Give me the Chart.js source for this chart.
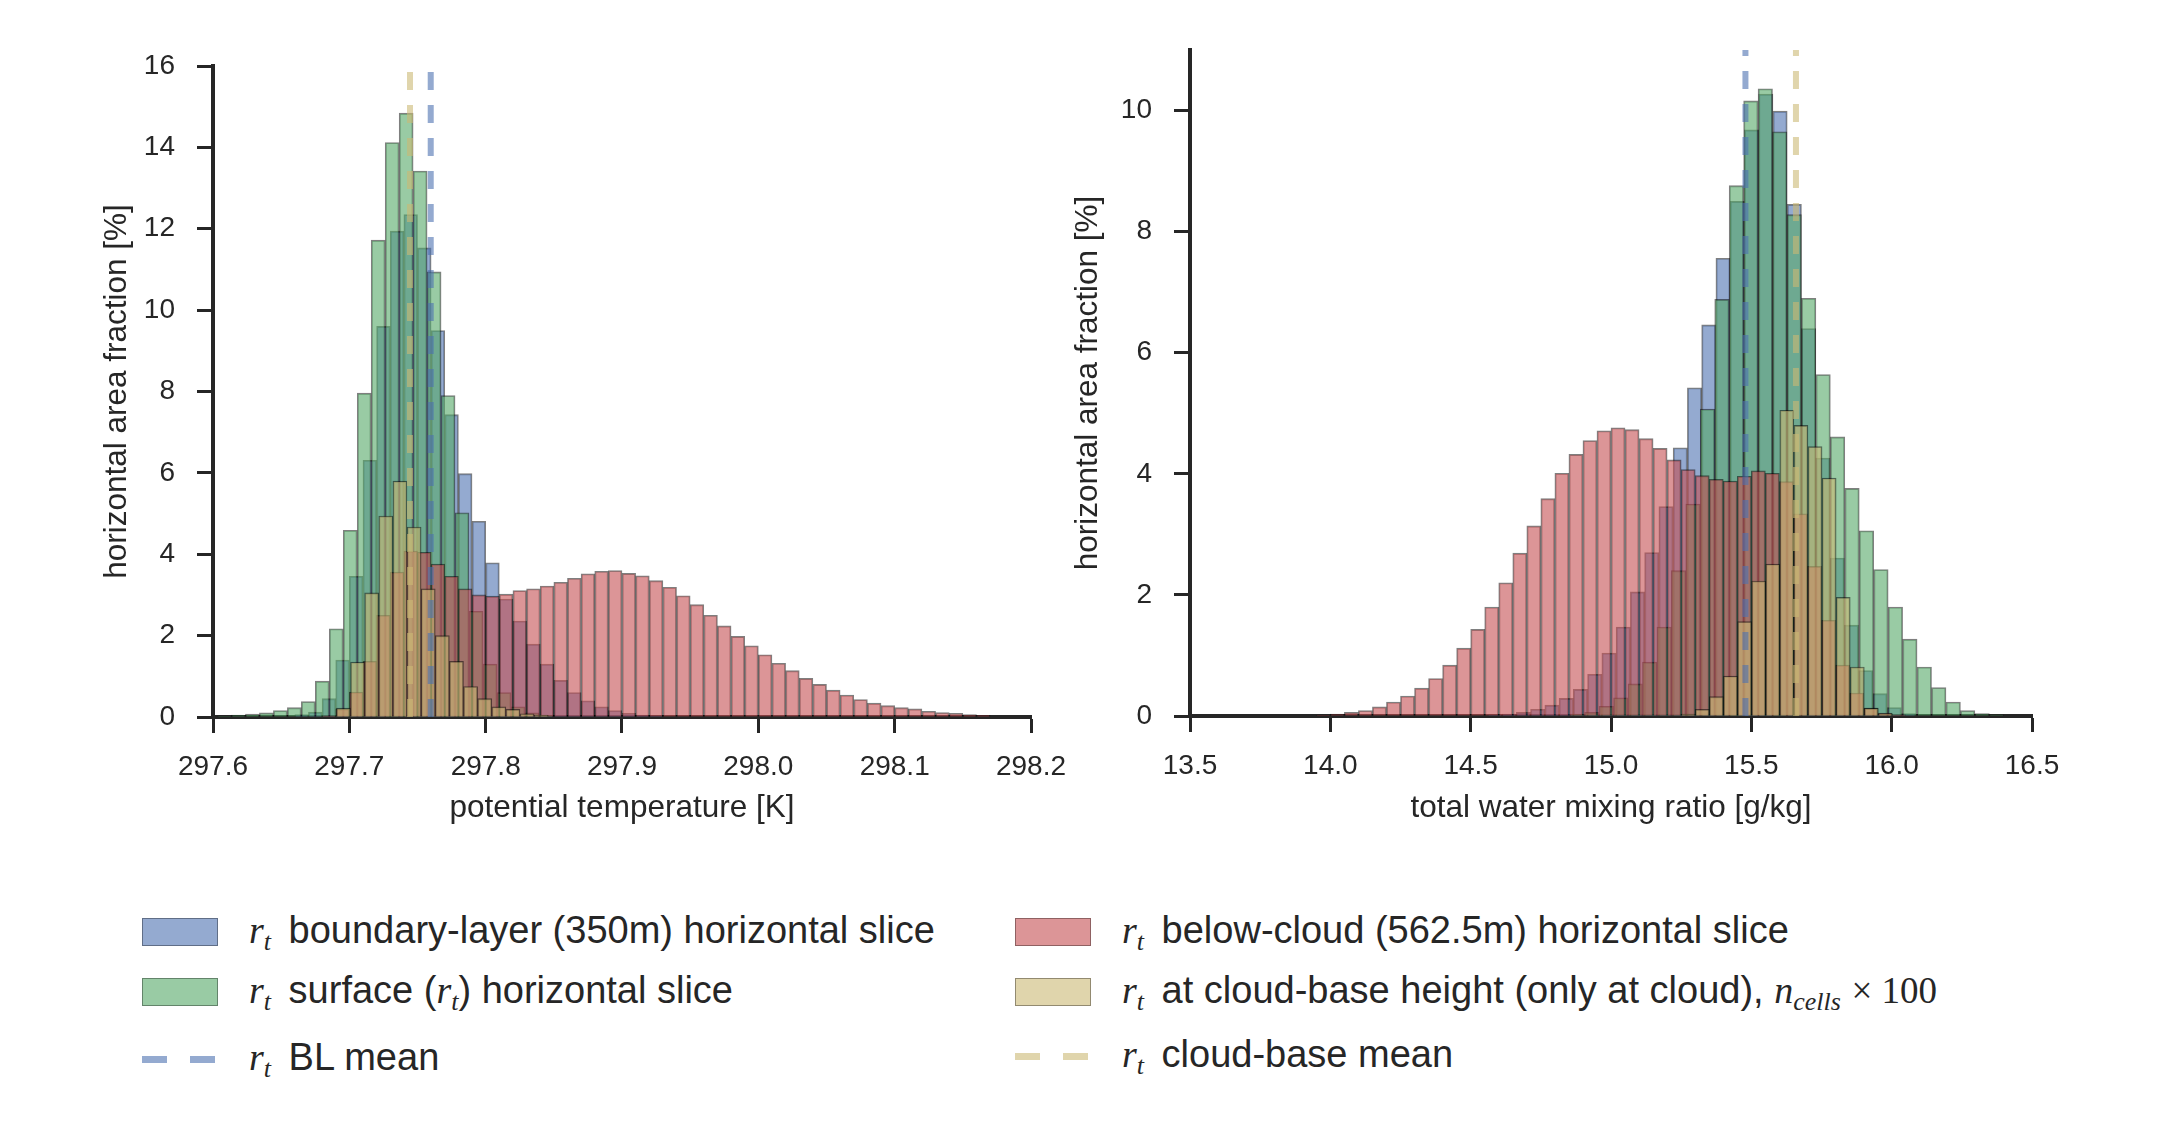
<!DOCTYPE html>
<html>
<head>
<meta charset="utf-8">
<script src="https://cdn.jsdelivr.net/npm/chart.js@4.4.1/dist/chart.umd.min.js"></script>
<style>
  body { margin: 0; background: #fff; width: 2159px; height: 1125px; position: relative; overflow: hidden;
         font-family: "Liberation Sans", Arial, sans-serif; color: #262626; }
  canvas { position: absolute; top: 0; }
  #thetaChart { left: 0; }
  #rtChart { left: 1050px; }
  .item { position: absolute; display: flex; align-items: center; height: 44px; font-size: 38px; white-space: nowrap; }
  .patch { display: inline-block; width: 74px; height: 26px; border: 1px solid rgba(0,0,0,0.35); margin-right: 31px; }
  .dash { display: inline-block; width: 76px; height: 7px; margin-right: 31px; position: relative; }
  .dash span { position: absolute; top: 0; width: 25px; height: 7px; }
  .m { font-family: "Liberation Serif", "DejaVu Serif", serif; font-style: italic; font-size: 38px; }
  .m sub { font-size: 26px; vertical-align: -7px; }
  .lead { margin-right: 7px; }
  .up { font-family: "Liberation Serif", "DejaVu Serif", serif; font-size: 37px; }
</style>
</head>
<body>
<canvas id="thetaChart" width="1090" height="860"></canvas>
<canvas id="rtChart" width="1109" height="860"></canvas>

<div class="item" style="left:142px;top:910px"><span class="patch" style="background:rgba(76,114,176,0.6)"></span><span><span class="m lead">r<sub>t</sub></span> boundary-layer (350m) horizontal slice</span></div>
<div class="item" style="left:142px;top:970px"><span class="patch" style="background:rgba(85,168,104,0.6)"></span><span><span class="m lead">r<sub>t</sub></span> surface (<span class="m">r<sub>t</sub></span>) horizontal slice</span></div>
<div class="item" style="left:142px;top:1037px"><span class="dash"><span style="left:0;background:rgba(76,114,176,0.6)"></span><span style="left:48px;background:rgba(76,114,176,0.6)"></span></span><span><span class="m lead">r<sub>t</sub></span> BL mean</span></div>
<div class="item" style="left:1015px;top:910px"><span class="patch" style="background:rgba(196,78,82,0.6)"></span><span><span class="m lead">r<sub>t</sub></span> below-cloud (562.5m) horizontal slice</span></div>
<div class="item" style="left:1015px;top:970px"><span class="patch" style="background:rgba(204,185,116,0.6)"></span><span><span class="m lead">r<sub>t</sub></span> at cloud-base height (only at cloud), <span class="m">n<sub>cells</sub></span> <span class="up">× 100</span></span></div>
<div class="item" style="left:1015px;top:1034px"><span class="dash"><span style="left:0;background:rgba(204,185,116,0.6)"></span><span style="left:48px;background:rgba(204,185,116,0.6)"></span></span><span><span class="m lead">r<sub>t</sub></span> cloud-base mean</span></div>

<script>
// ---- left panel: potential temperature [K] ----
const thetaTicks = [297.6, 297.7, 297.8, 297.9, 298.0, 298.1, 298.2];
const thetaYTicks = [0, 2, 4, 6, 8, 10, 12, 14, 16];

const thetaBlStart = 297.66, thetaBlWidth = 0.01;
const thetaBl = [0.06, 0.12, 0.45, 1.4, 3.46, 6.31, 9.6, 11.94, 12.35, 11.53, 9.5, 7.43, 5.98, 4.81,
                 3.79, 2.9, 2.36, 1.79, 1.3, 0.9, 0.6, 0.4, 0.25, 0.16, 0.09, 0.05, 0.03];

const thetaSfcStart = 297.6033, thetaSfcWidth = 0.01025;
const thetaSfc = [0.02, 0.05, 0.07, 0.1, 0.16, 0.23, 0.38, 0.88, 2.17, 4.59, 7.96, 11.72, 14.12, 14.84,
                  13.42, 10.94, 7.9, 5.02, 2.6, 1.3, 0.6, 0.25, 0.1, 0.04];

const thetaBelowStart = 297.68, thetaBelowWidth = 0.01;
const thetaBelow = [0.03, 0.2, 0.61, 1.37, 2.5, 3.56, 4.08, 4.05, 3.76, 3.46, 3.15, 3.0, 2.97, 3.02,
                    3.11, 3.15, 3.22, 3.31, 3.41, 3.52, 3.58, 3.6, 3.53, 3.47, 3.35, 3.19, 2.98, 2.76,
                    2.5, 2.24, 1.98, 1.75, 1.53, 1.32, 1.14, 0.95, 0.8, 0.66, 0.54, 0.43, 0.34, 0.28,
                    0.23, 0.2, 0.14, 0.11, 0.09, 0.06, 0.04];

const thetaCbStart = 297.6905, thetaCbWidth = 0.01036;
const thetaCb = [0.22, 1.35, 3.05, 4.94, 5.8, 4.67, 3.15, 2.0, 1.37, 0.75, 0.45, 0.25, 0.19, 0.08, 0.05];

const thetaBlMean = 297.7597;
const thetaCbMean = 297.7445;

// ---- right panel: total water mixing ratio [g/kg] ----
const rtTicks = [13.5, 14.0, 14.5, 15.0, 15.5, 16.0, 16.5];
const rtYTicks = [0, 2, 4, 6, 8, 10];

const rtBlStart = 14.561, rtBlWidth = 0.0508;
const rtBl = [0.01, 0.03, 0.06, 0.11, 0.18, 0.29, 0.44, 0.69, 1.04, 1.47, 2.05, 2.7, 3.46, 4.43, 5.42,
              6.46, 7.56, 8.5, 9.68, 10.27, 9.99, 8.45, 6.4, 4.26, 2.61, 1.5, 0.75, 0.37, 0.14, 0.04];

const rtSfcStart = 14.8545, rtSfcWidth = 0.0515;
const rtSfc = [0.03, 0.06, 0.16, 0.3, 0.53, 0.89, 1.47, 2.4, 3.5, 5.07, 6.88, 8.76, 10.16, 10.36, 9.65,
               8.28, 6.9, 5.64, 4.61, 3.76, 3.06, 2.42, 1.8, 1.27, 0.81, 0.47, 0.23, 0.09, 0.04, 0.02];

const rtBelowStart = 13.95, rtBelowWidth = 0.05;
const rtBelow = [0.01, 0.03, 0.06, 0.09, 0.15, 0.23, 0.33, 0.46, 0.62, 0.84, 1.12, 1.43, 1.8, 2.2, 2.69,
                 3.14, 3.59, 4.01, 4.32, 4.55, 4.71, 4.76, 4.73, 4.58, 4.42, 4.23, 4.07, 3.97, 3.91,
                 3.88, 3.96, 4.05, 4.01, 3.87, 3.34, 2.47, 1.58, 0.84, 0.38, 0.13, 0.05, 0.02];

const rtCbStart = 15.25, rtCbWidth = 0.0502;
const rtCb = [0.03, 0.11, 0.32, 0.66, 1.56, 2.23, 2.51, 5.05, 4.8, 4.45, 3.93, 1.96, 0.81, 0.13, 0.04];

const rtBlMean = 15.479;
const rtCbMean = 15.659;

const INK = '#262626';
const BLUE = 'rgba(76,114,176,0.6)';
const GREEN = 'rgba(85,168,104,0.6)';
const RED = 'rgba(196,78,82,0.6)';
const KHAKI = 'rgba(204,185,116,0.6)';

function histBars(label, heights, start, width, color, order) {
  return {
    type: 'bar',
    label,
    data: heights.map((h, i) => ({ x: start + (i + 0.5) * width, y: h })),
    binStart: start,
    binWidth: width,
    backgroundColor: color,
    borderColor: 'rgba(0,0,0,0.5)',
    borderWidth: 1.2,
    grouped: false,
    order
  };
}

function meanLine(label, x, top, color) {
  return {
    type: 'line',
    label,
    data: [{ x, y: 0 }, { x, y: top }],
    borderColor: color,
    borderWidth: 6,
    borderDash: [18, 15],
    borderCapStyle: 'butt',
    pointRadius: 0,
    order: 0
  };
}

// bar widths follow each histogram's own bin width on the x scale
const binWidthPlugin = {
  id: 'binWidth',
  afterLayout(chart) {
    const x = chart.scales.x;
    chart.data.datasets.forEach(ds => {
      if (ds.binWidth) {
        ds.barThickness = Math.abs(x.getPixelForValue(ds.binStart + ds.binWidth) - x.getPixelForValue(ds.binStart));
      }
    });
  }
};

function makeChart(id, cfg) {
  const font = { family: '"Liberation Sans", Arial, sans-serif', size: 28 };
  const titleFont = { family: '"Liberation Sans", Arial, sans-serif', size: 31.5 };
  return new Chart(document.getElementById(id), {
    type: 'bar',
    data: { datasets: cfg.datasets },
    plugins: [binWidthPlugin],
    options: {
      responsive: false,
      animation: false,
      events: [],
      layout: { padding: cfg.padding },
      plugins: { legend: { display: false }, tooltip: { enabled: false } },
      scales: {
        x: {
          type: 'linear',
          min: cfg.xTicks[0],
          max: cfg.xTicks[cfg.xTicks.length - 1],
          offset: false,
          z: 1,
          afterBuildTicks: s => { s.ticks = cfg.xTicks.map(v => ({ value: v })); },
          afterFit: s => { s.height = 120; },
          ticks: { font, color: INK, padding: 17, maxRotation: 0, callback: v => Number(v).toFixed(1) },
          grid: { offset: false, drawOnChartArea: false, drawTicks: true, tickLength: 16, tickWidth: 3, tickColor: INK },
          border: { display: true, color: INK, width: 4 },
          title: { display: true, text: cfg.xTitle, font: titleFont, color: INK, padding: { top: 0, bottom: cfg.xTitlePad } }
        },
        y: {
          type: 'linear',
          min: 0,
          max: cfg.yMax,
          z: 1,
          afterBuildTicks: s => { s.ticks = cfg.yTicks.map(v => ({ value: v })); },
          afterFit: s => { s.width = cfg.yWidth; },
          ticks: { font, color: INK, padding: 22 },
          grid: { drawOnChartArea: false, drawTicks: true, tickLength: 16, tickWidth: 3, tickColor: INK },
          border: { display: true, color: INK, width: 4 },
          title: { display: true, text: 'horizontal area fraction [%]', font: titleFont, color: INK, padding: { top: cfg.yTitlePad, bottom: 0 } }
        }
      }
    }
  });
}

makeChart('thetaChart', {
  xTicks: thetaTicks,
  yTicks: thetaYTicks,
  yMax: 16,
  xTitle: 'potential temperature [K]',
  padding: { left: 0, right: 59, top: 66, bottom: 23 },
  yWidth: 213,
  yTitlePad: 98,
  xTitlePad: 10,
  datasets: [
    histBars('BL', thetaBl, thetaBlStart, thetaBlWidth, BLUE, 4),
    histBars('surface', thetaSfc, thetaSfcStart, thetaSfcWidth, GREEN, 3),
    histBars('below-cloud', thetaBelow, thetaBelowStart, thetaBelowWidth, RED, 2),
    histBars('cloud-base', thetaCb, thetaCbStart, thetaCbWidth, KHAKI, 1),
    meanLine('BL mean', thetaBlMean, 16, BLUE),
    meanLine('cloud-base mean', thetaCbMean, 16, KHAKI)
  ]
});

makeChart('rtChart', {
  xTicks: rtTicks,
  yTicks: rtYTicks,
  yMax: 11,
  xTitle: 'total water mixing ratio [g/kg]',
  padding: { left: 0, right: 127, top: 50, bottom: 24 },
  yWidth: 140,
  yTitlePad: 19,
  xTitlePad: 9,
  datasets: [
    histBars('BL', rtBl, rtBlStart, rtBlWidth, BLUE, 4),
    histBars('surface', rtSfc, rtSfcStart, rtSfcWidth, GREEN, 3),
    histBars('below-cloud', rtBelow, rtBelowStart, rtBelowWidth, RED, 2),
    histBars('cloud-base', rtCb, rtCbStart, rtCbWidth, KHAKI, 1),
    meanLine('BL mean', rtBlMean, 11, BLUE),
    meanLine('cloud-base mean', rtCbMean, 11, KHAKI)
  ]
});
</script>
</body>
</html>
